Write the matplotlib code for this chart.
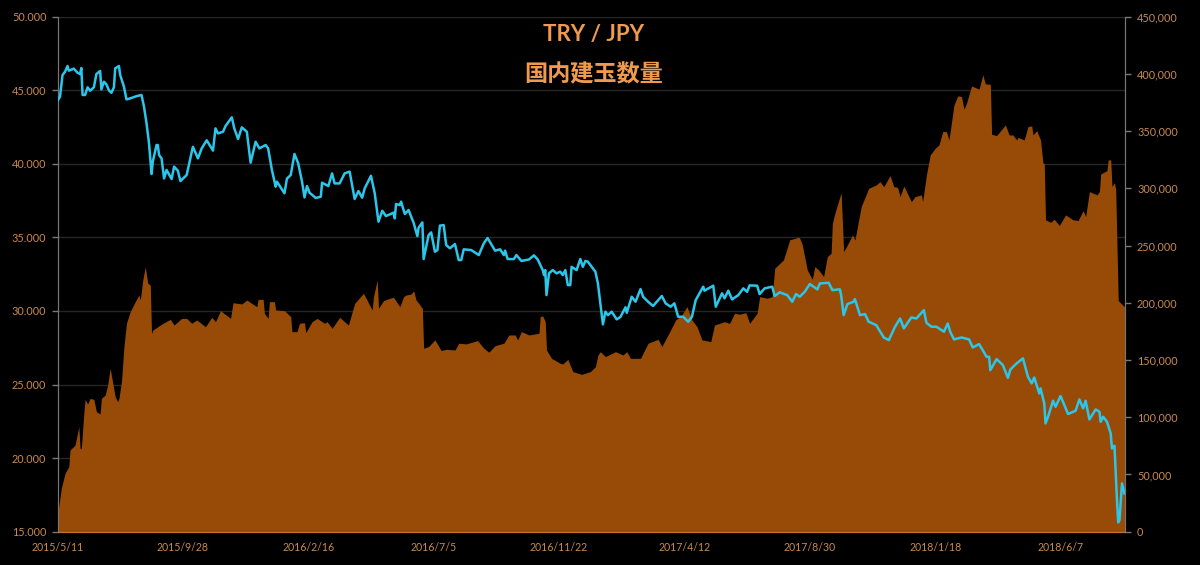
"""TRY/JPY rate against domestic open interest."""

import matplotlib
matplotlib.use("Agg")
import matplotlib.pyplot as plt
from matplotlib.ticker import FuncFormatter

plt.rcParams["font.family"] = ["Lato", "Noto Sans CJK JP", "DejaVu Sans"]

# x values are business days counted from 2015/5/11
tick_days = [0, 100, 200, 300, 400, 500, 600, 700, 800]
tick_dates = ["2015/5/11", "2015/9/28", "2016/2/16", "2016/7/5", "2016/11/22",
              "2017/4/12", "2017/8/30", "2018/1/18", "2018/6/7"]
n_days = 851

rate_days = [0, 2, 4, 6, 8, 9, 13, 16, 18, 19, 20, 22, 24, 26, 29, 31, 34, 35, 37, 39, 41, 43,
             45, 46, 49, 50, 53, 55, 58, 63, 67, 69, 71, 73, 75, 76, 79, 80, 81, 83, 85, 87,
             91, 93, 96, 98, 103, 108, 112, 115, 119, 124, 126, 128, 132, 134, 139, 141, 144,
             147, 151, 154, 158, 161, 166, 168, 171, 174, 175, 181, 183, 186, 189, 192, 195,
             197, 199, 201, 206, 210, 211, 216, 219, 221, 225, 229, 233, 237, 240, 243, 245,
             250, 253, 256, 259, 262, 268, 269, 270,
             273, 274, 277, 280, 284, 287, 288, 291, 292, 296, 298, 301, 303, 305, 308, 310,
             313, 317, 320, 322, 324, 330, 336, 340, 343, 349, 353, 356, 357, 359, 364, 366,
             370, 376, 380, 383, 387, 388, 389, 390, 392, 395, 398, 401, 403, 405, 407, 409,
             410, 414, 417, 419, 421, 423, 429, 431, 435, 437, 439, 442, 446, 449, 453, 454,
             458, 461, 465, 467, 471, 475, 482, 485, 489, 492, 495, 499, 503, 506, 509, 512,
             515, 516, 523, 525, 530, 532, 535, 538, 543, 547, 550, 552, 558, 560, 564, 570,
             572, 576, 582, 586, 589,
             592, 596, 600, 606, 608, 615, 618, 624, 625, 627, 630, 635, 636, 640, 644, 647,
             653, 659, 663, 668, 672, 675, 681, 685, 691, 693, 697, 701, 707, 710, 712, 715,
             721, 727, 730, 735, 741, 743, 744, 749, 754, 758, 760, 765, 770, 774, 777, 779,
             783, 784, 787, 788, 790, 794, 796, 800, 806, 812, 815, 818, 820, 823, 828, 831,
             832, 834, 837, 840, 841, 843, 845, 846, 847, 849, 851]
rate_values = [44.29, 44.56, 46.04, 46.26, 46.65, 46.33, 46.47, 46.19, 46.10, 46.51, 44.68, 44.68,
               45.20, 44.97, 45.20, 46.10, 46.31, 45.06, 45.58, 45.40, 45.00, 44.83,
               45.20, 46.49, 46.65, 46.04, 45.24, 44.38, 44.45, 44.60, 44.68, 43.88, 42.75, 41.39,
               39.31, 40.15, 41.28, 41.28, 40.60, 40.37, 39.01, 39.58,
               38.97, 39.81, 39.53, 38.83, 39.24, 41.16, 40.37, 41.05, 41.60, 40.90, 42.41, 42.07,
               42.18, 42.57, 43.16, 42.41, 41.69,
               42.48, 42.18, 40.08, 41.50, 41.05, 41.28, 41.05, 39.58, 38.45, 38.79, 38.00, 39.00,
               39.24, 40.67, 40.03, 38.79,
               37.72, 38.49, 38.04, 37.68, 37.77, 38.72, 38.49, 39.35, 38.67, 38.67, 39.35, 39.47,
               37.61, 38.15, 37.70, 38.33,
               39.19, 38.00, 36.07, 36.81, 36.45, 36.68, 36.29, 37.27,
               37.20, 37.43, 36.59, 36.86, 36.00, 35.09, 35.66, 36.02, 33.53, 35.16, 35.34, 34.03,
               34.14, 35.80, 35.84, 34.48,
               34.26, 34.55, 33.46, 33.46, 34.19, 34.14, 33.80, 34.60, 34.96, 34.10, 34.19, 33.80,
               34.10, 33.53, 33.53, 33.80,
               33.40, 33.50, 33.78, 33.50, 32.78, 32.44, 32.78, 31.08, 32.56, 32.78, 32.56, 32.67,
               32.44, 32.78, 31.76, 31.76,
               33.00, 32.78, 33.53, 33.00, 33.40, 33.35, 32.67, 31.88, 29.09, 29.95, 29.72, 29.95,
               29.43, 29.60, 30.25, 29.88,
               30.97, 30.63, 31.49, 30.97, 30.63, 30.34, 31.02, 30.52, 30.29, 30.52, 29.61, 29.61,
               29.27, 29.61, 30.74, 31.20,
               31.65, 31.38, 31.72, 30.29, 31.20, 30.86, 31.38, 30.79, 31.08, 31.54, 31.30, 31.74,
               31.72, 31.15, 31.54, 31.65,
               31.02, 31.27, 31.08, 30.63, 31.15,
               30.97, 31.31, 31.83, 31.47, 31.87, 31.92, 31.42, 31.47, 31.08, 29.72, 30.47, 30.63,
               30.81, 29.72, 29.79, 29.27,
               29.04, 28.20, 28.02, 28.93, 29.49, 28.82, 29.56, 29.49, 30.06, 29.20, 28.93, 28.93,
               28.59, 29.15, 28.59, 28.07,
               28.20, 28.07, 27.52, 27.75, 26.89, 26.89, 25.98, 26.73, 26.32, 25.46, 26.03, 26.44,
               26.78, 25.53, 25.08, 25.48,
               24.40, 24.74, 23.72, 22.36, 22.81, 23.90, 23.49, 24.22, 23.00, 23.22, 23.99, 23.38,
               23.90, 22.63, 23.31, 23.15,
               22.47, 22.81, 22.47, 21.68, 20.66, 20.84, 17.15, 15.63, 15.79, 18.28, 17.60]

oi_days = [0, 1, 3, 6, 9, 10, 14, 17, 18, 19, 21, 22, 24, 26, 29, 31, 34, 35, 38, 40, 42, 46, 48,
           49, 51, 53, 55, 58, 62, 65, 66, 68, 70, 72, 74, 75, 76, 82, 84, 90, 93, 99, 103, 107,
           111, 118, 123, 126, 130, 138, 140, 147, 151, 159, 160, 164, 165, 168, 169, 173, 174,
           181, 186, 187, 191, 193, 197, 198, 203, 207, 213, 215, 219, 225, 232, 237, 244, 251,
           252, 255, 256, 260, 265, 268,
           273, 276, 278, 282, 284, 286, 291, 292, 296, 301, 306, 310, 317, 320, 326, 335, 340,
           344, 349, 356, 360, 365, 367, 370, 376, 384, 385, 387, 389, 390, 394, 401, 403, 407,
           411, 418, 425, 429, 431, 433, 437, 445, 451, 454, 457, 465, 471, 479, 482, 489, 493,
           498, 502, 506, 510, 514, 521, 524, 532, 536, 540, 544, 549, 552, 558, 560, 566, 570,
           572, 579, 584, 591,
           592, 594, 598, 602, 604, 607, 611, 614, 617, 618, 620, 625, 627, 630, 634, 636, 641,
           647, 653, 656, 659, 664, 667, 670, 672, 675, 681, 684, 689, 690, 693, 696, 700, 703,
           706, 709, 711, 715, 718, 721, 723, 725, 729, 735, 738, 740, 744, 745, 749, 756, 759,
           762, 765, 766, 771, 774, 777, 778, 781, 784, 786, 787, 788, 792, 795, 799, 804, 810,
           814, 818, 820, 823, 829, 831, 832, 837, 838, 840, 841, 843, 844, 846, 851]
oi_values = [16000, 21800, 37900, 51000, 56800, 71400, 75700, 91800, 72800, 72800, 103400, 115600,
             111600, 116500, 115600, 104900, 102800, 116500, 119400, 128200, 142700, 118000,
             113600, 116500, 131100, 161700, 182100, 192300, 201000, 206800, 202400, 219900,
             231300, 217000, 215600, 173300, 176200, 180600, 182000, 185600, 180600, 186400,
             186400, 182100, 185000, 179100, 187300, 183500, 193100, 186400, 200100, 199000,
             202400, 196600, 203000, 203000, 190800, 186400, 201000, 201000, 193700, 193100,
             187900, 174800, 174800, 182100, 182600, 173900, 183500, 186400, 182100, 183500,
             177700, 187300, 180600, 199500, 208300, 193700, 205400, 219900, 195200, 201900,
             203900, 204800,
             196600, 205400, 206800, 207700, 210400, 202500, 195200, 160300, 161800, 167600,
             158300, 159400, 158800, 164700, 164100, 167000, 160300, 156800, 162600, 164700,
             171900, 171900, 167600, 174900, 171900, 173400, 187900, 188500, 183600, 158800,
             151500, 147100, 146500, 150600, 139900, 137500, 139900, 144200, 154400, 157300,
             153000, 157300, 154400, 157300, 151500, 151500, 164700, 168100, 161800, 176300,
             185000, 189400, 196700, 185000, 179200, 167600, 166100, 180600, 183500, 182000,
             190900, 190000, 191400, 182100, 190900, 205400, 204000, 205400, 230200, 237500,
             255000, 257300,
             256400, 250600, 228700, 220600, 231600, 228700, 222900, 240400, 243300, 269500,
             278300, 296300, 244800, 250600, 259300, 254900, 284100, 300100, 303000, 305900,
             301500, 311200, 301500, 300900, 292800, 302100, 288400, 292800, 294300, 288400,
             311700, 329200, 335000, 337900, 349600, 349600, 342300, 372900, 380800, 380200,
             369100, 374400, 389500, 386700, 399200, 391300, 391000, 347300, 346100, 355400,
             346700, 346700, 342300, 344600, 342300, 354000, 354600, 346700, 350500, 342300,
             321900, 321900, 272500, 270400, 273000, 267500, 276800, 272500, 271900, 280600,
             275300, 297200, 294300, 297200, 312600, 315500, 324900, 324900, 301600, 305000,
             298600, 201900, 196600]

title_lines = ["TRY / JPY", "国内建玉数量"]

TEXT = "#c98a4e"
TITLE = "#ef9a4e"
AREA = "#974b07"
LINE = "#2cc6ea"

fig = plt.figure(figsize=(12, 5.65), dpi=100, facecolor="black")
rect = [57.5 / 1200, 1 - 531.7 / 565, 1067 / 1200, 515 / 565]

# left axis holds the grid, the area sits above it, the line goes on top of both
ax = fig.add_axes(rect, facecolor="black")
ax.set_xlim(0, n_days)
ax.set_ylim(15, 50)
ax.set_yticks(range(15, 55, 5))
ax.yaxis.set_major_formatter(FuncFormatter(lambda v, _: f"{v:.3f}"))
ax.grid(axis="y", color="#262626", linewidth=1)
ax.set_xticks(tick_days)
ax.set_xticklabels(tick_dates)
ax.tick_params(axis="x", length=0, pad=7.5, labelsize=7.6, labelcolor=TEXT)
ax.tick_params(axis="y", length=4, width=1, color="#777777", pad=4, labelsize=7.8, labelcolor=TEXT)

ax_oi = ax.twinx()
ax_oi.set_ylim(0, 450000)
ax_oi.set_yticks(range(0, 500000, 50000))
ax_oi.yaxis.set_major_formatter(FuncFormatter(lambda v, _: f"{int(v):,}"))
ax_oi.tick_params(axis="y", length=4, width=1, color="#777777", pad=5, labelsize=7.8, labelcolor=TEXT)
ax_oi.fill_between(oi_days, oi_values, 0, color=AREA, linewidth=0)

ax_rate = fig.add_axes(rect, facecolor="none", sharex=ax, sharey=ax)
ax_rate.axis("off")
ax_rate.plot(rate_days, rate_values, color=LINE, linewidth=1.8)

for a in (ax, ax_oi):
    a.spines["top"].set_visible(False)
    a.spines["left"].set_color("#777777")
    a.spines["right"].set_color("#777777")
    a.spines["bottom"].set_color("#c8762c")

fig.text(594 / 1200, 1 - 34.5 / 565, title_lines[0], color=TITLE, fontsize=16, fontweight="bold",
         ha="center", va="center")
fig.text(594 / 1200, 1 - 74 / 565, title_lines[1], color=TITLE, fontsize=16.7, fontweight="bold",
         ha="center", va="center")

fig.savefig("out.png", dpi=100, facecolor="black")
